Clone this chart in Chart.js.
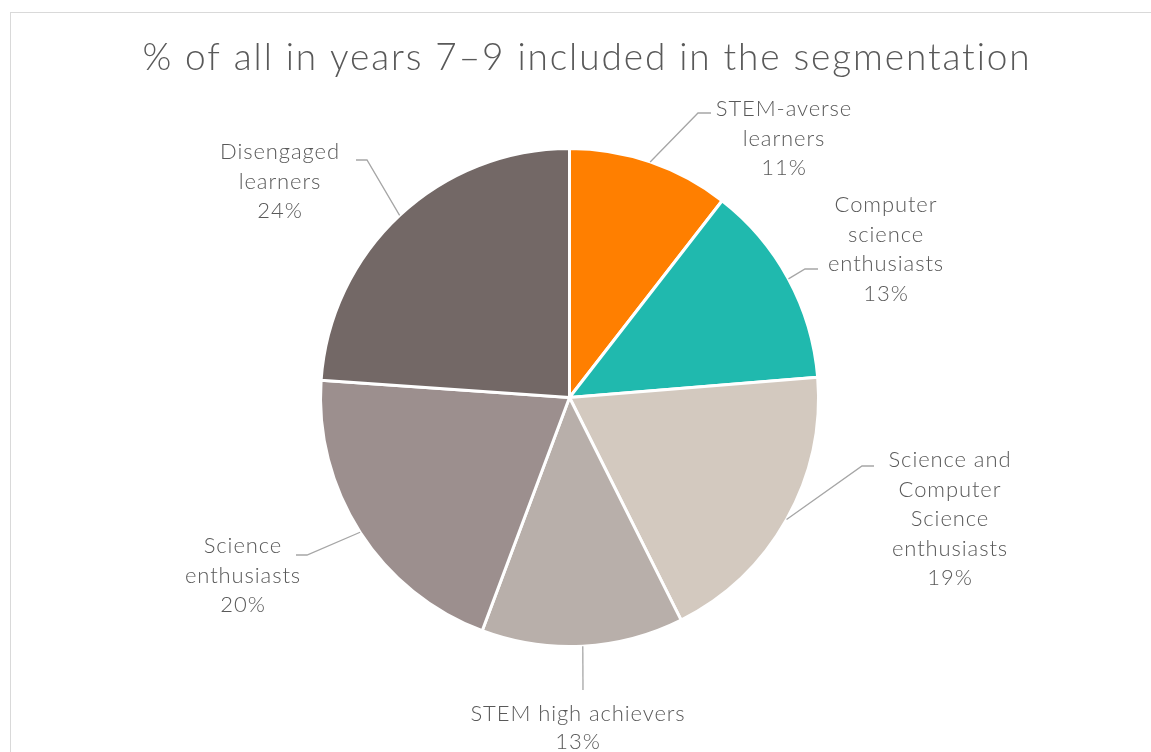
<!DOCTYPE html>
<html>
<head>
<meta charset="utf-8">
<script src="https://cdn.jsdelivr.net/npm/chart.js@4.4.1/dist/chart.umd.min.js"></script>
<style>
  html, body { margin: 0; padding: 0; background: #ffffff; overflow: hidden; }
  #frame { position: absolute; left: 10px; top: 12px; width: 1300px; height: 900px; border: 1px solid #d9d9d9; box-sizing: border-box; }
  #wrap { position: absolute; left: 0; top: 0; width: 1151px; height: 752px; }
</style>
</head>
<body>
<div id="frame"></div>
<div id="wrap"><canvas id="c" width="1151" height="752"></canvas></div>
<script>
// ---- data ----
const titleText = "% of all in years 7\u20139 included in the segmentation";
const categories = [
  "STEM-averse\nlearners",
  "Computer\nscience\nenthusiasts",
  "Science and\nComputer\nScience\nenthusiasts",
  "STEM high achievers",
  "Science\nenthusiasts",
  "Disengaged\nlearners"
];
const shares = [10.5, 13.2, 18.9, 13.1, 20.4, 23.9];
const percentLabels = ["11%", "13%", "19%", "13%", "20%", "24%"];
const sliceColors = ["#ff7f00", "#20b9ae", "#d3c9bf", "#b8afaa", "#9c8f8e", "#736866"];

// label layout (text block center x, first baseline y, leader start points)
const labelLayout = [
  { cx: 784, y0: 116, leader: [[711, 113], [698, 113]] },
  { cx: 886, y0: 212, leader: [[818, 269], [805, 269]] },
  { cx: 950, y0: 467, leader: [[874, 466], [862, 466]] },
  { cx: 578, y0: 721, leader: [[583, 690]] },
  { cx: 243, y0: 553, leader: [[296, 555], [307, 555]] },
  { cx: 280, y0: 159, leader: [[356, 160], [367, 160]] }
];
const FONT = "Lato, 'Open Sans', sans-serif";
const TEXT_COLOR = "#595959";
const LINE_H = 29.5;

const labelsPlugin = {
  id: 'pieLabels',
  afterDraw(chart) {
    const ctx = chart.ctx;
    ctx.save();
    // title
    ctx.fillStyle = TEXT_COLOR;
    ctx.font = "300 37px " + FONT;
    ctx.letterSpacing = "1.9px";
    ctx.textAlign = "center";
    ctx.textBaseline = "alphabetic";
    ctx.fillText(titleText, 587, 70);

    const meta = chart.getDatasetMeta(0);
    meta.data.forEach((arc, i) => {
      const p = arc.getProps(['x', 'y', 'startAngle', 'endAngle', 'outerRadius'], true);
      const mid = (p.startAngle + p.endAngle) / 2;
      const ax = p.x + Math.cos(mid) * p.outerRadius;
      const ay = p.y + Math.sin(mid) * p.outerRadius;
      const L = labelLayout[i];
      // leader
      ctx.strokeStyle = "#a6a6a6";
      ctx.lineWidth = 1.3;
      ctx.beginPath();
      ctx.moveTo(L.leader[0][0], L.leader[0][1]);
      for (let k = 1; k < L.leader.length; k++) ctx.lineTo(L.leader[k][0], L.leader[k][1]);
      ctx.lineTo(ax, ay);
      ctx.stroke();
      // text
      const lines = categories[i].split("\n").concat([percentLabels[i]]);
      ctx.fillStyle = TEXT_COLOR;
      ctx.font = "300 22px " + FONT;
      ctx.letterSpacing = "0.9px";
      ctx.textAlign = "center";
      lines.forEach((t, j) => ctx.fillText(t, L.cx, L.y0 + j * (i === 3 ? 28 : LINE_H)));
    });
    ctx.restore();
  }
};

new Chart(document.getElementById('c'), {
  type: 'pie',
  data: {
    labels: categories.map(s => s.replace(/\n/g, ' ')),
    datasets: [{
      data: shares,
      backgroundColor: sliceColors,
      borderColor: "#ffffff",
      borderWidth: 3
    }]
  },
  options: {
    responsive: false,
    animation: false,
    rotation: 0,
    layout: { padding: { left: 319, right: 331, top: 147, bottom: 104 } },
    plugins: {
      legend: { display: false },
      title: { display: false },
      tooltip: { enabled: false }
    }
  },
  plugins: [labelsPlugin]
});
</script>
</body>
</html>
